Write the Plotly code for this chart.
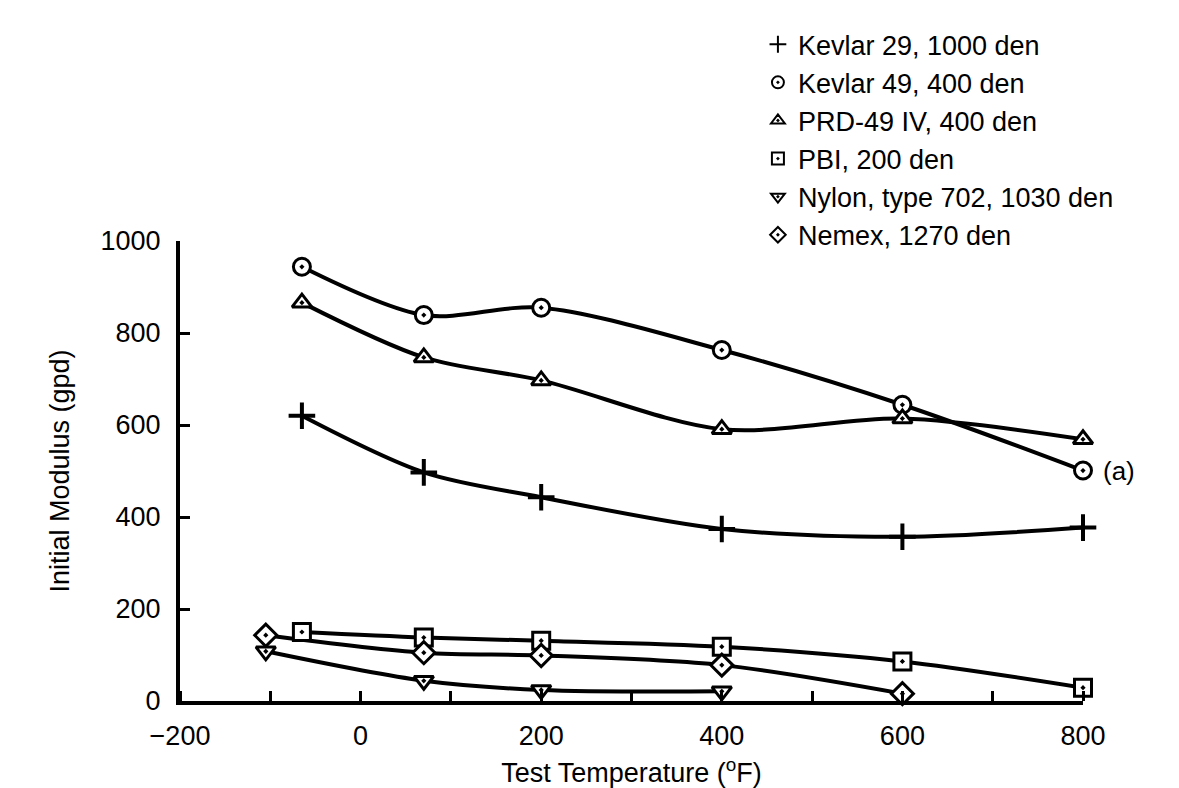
import plotly.graph_objects as go

# Test temperatures (deg F) for each series
temps_kevlar29 = [-65, 70, 200, 400, 600, 800]
temps_kevlar49 = [-65, 70, 200, 400, 600, 800]
temps_prd49 = [-65, 70, 200, 400, 600, 800]
temps_pbi = [-65, 70, 200, 400, 600, 800]
temps_nylon = [-105, 70, 200, 400]
temps_nomex = [-105, 70, 200, 400, 600]

# Initial modulus (gpd)
kevlar29 = [620, 497, 443, 374, 357, 377]
kevlar49 = [944, 839, 855, 763, 644, 501]
prd49 = [866, 747, 697, 591, 614, 569]
pbi = [150, 138, 131, 118, 86, 29]
nylon = [108, 44, 24, 21]
nomex = [143, 105, 99, 78, 16]

names = ["Kevlar 29, 1000 den", "Kevlar 49, 400 den", "PRD-49 IV, 400 den",
         "PBI, 200 den", "Nylon, type 702, 1030 den", "Nemex, 1270 den"]
symbols = ["cross-thin", "circle-dot", "triangle-up-dot", "square-dot",
           "triangle-down-dot", "diamond-dot"]

x_tickvals = [-200, 0, 200, 400, 600, 800]
y_tickvals = [0, 200, 400, 600, 800, 1000]

series = [
    (temps_kevlar29, kevlar29),
    (temps_kevlar49, kevlar49),
    (temps_prd49, prd49),
    (temps_pbi, pbi),
    (temps_nylon, nylon),
    (temps_nomex, nomex),
]

FONT = "Liberation Sans, Arial, sans-serif"
fig = go.Figure()

# curves
for (xs, ys), name in zip(series, names):
    fig.add_trace(go.Scatter(
        x=xs, y=ys, mode="lines", showlegend=False, hoverinfo="skip",
        line=dict(color="black", width=4, shape="spline", smoothing=0.9),
        cliponaxis=False,
    ))

# markers (legend shows only symbols)
for (xs, ys), name, sym in zip(series, names, symbols):
    is_cross = sym == "cross-thin"
    fig.add_trace(go.Scatter(
        x=xs, y=ys, mode="markers", name=name,
        marker=dict(symbol=sym, size=19 if is_cross else 17,
                    color="black" if is_cross else "white",
                    line=dict(color="black", width=4 if is_cross else 3)),
        cliponaxis=False,
    ))

fig.add_annotation(x=temps_kevlar49[-1], y=kevlar49[-1], text="(a)",
                   showarrow=False, xanchor="left", xshift=18,
                   font=dict(size=26, family=FONT, color="black"))

fig.update_layout(
    width=1179, height=788,
    paper_bgcolor="white", plot_bgcolor="white",
    margin=dict(l=172, r=104, t=225, b=88),
    font=dict(family=FONT, size=26, color="black"),
    showlegend=True,
    legend=dict(x=0.64, y=1.48, xanchor="left", yanchor="top",
                bgcolor="rgba(0,0,0,0)", font=dict(size=27, family=FONT),
                itemsizing="constant", tracegroupgap=0),
    xaxis=dict(range=[-200, 800], tickvals=x_tickvals,
               ticks="", showline=True, linecolor="black", linewidth=4,
               showgrid=False, zeroline=False, ticklabelstandoff=8,
               minor=dict(dtick=100, tick0=-200, ticks="inside", ticklen=10,
                          tickwidth=3, tickcolor="black", showgrid=False),
               tickfont=dict(size=27, family=FONT),
               title=dict(text="Test Temperature (<sup>o</sup>F)",
                          font=dict(size=27, family=FONT), standoff=14)),
    yaxis=dict(range=[0, 1000], tickvals=y_tickvals,
               ticks="inside", ticklen=10, tickwidth=3, tickcolor="black",
               showline=True, linecolor="black", linewidth=4,
               showgrid=False, zeroline=False, ticklabelstandoff=10,
               tickfont=dict(size=27, family=FONT),
               title=dict(text="Initial Modulus (gpd)",
                          font=dict(size=27, family=FONT), standoff=24)),
)

fig.write_html("out.html")
